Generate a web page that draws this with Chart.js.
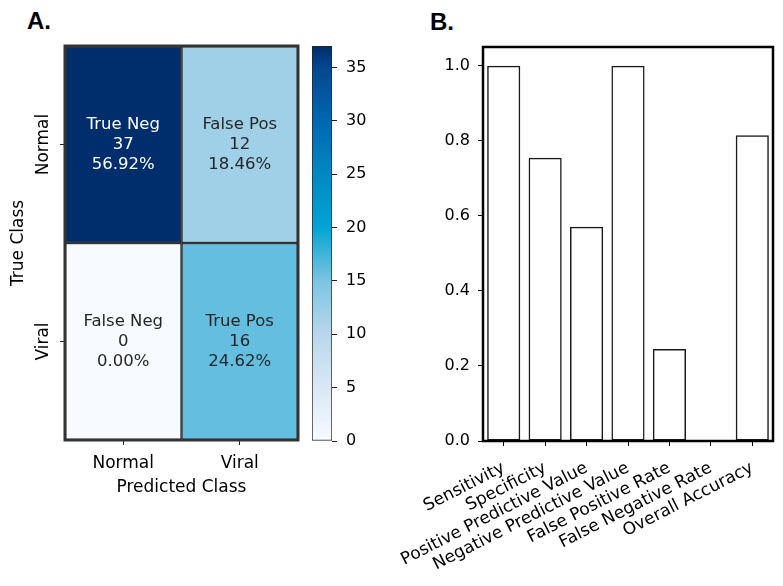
<!DOCTYPE html>
<html>
<head>
<meta charset="utf-8">
<script src="https://cdn.jsdelivr.net/npm/chart.js@4.4.0/dist/chart.umd.min.js"></script>
<style>
  body { margin: 0; background: #fff; }
  #wrap { position: relative; width: 783px; height: 586px; overflow: hidden; }
  canvas { position: absolute; top: 0; }
  .panel { position: absolute; font: bold 24px 'Liberation Sans', Arial, sans-serif; line-height: 24px; color: #000; }
</style>
</head>
<body>
<div id="wrap">
  <div class="panel" style="left:27px;top:9px">A.</div>
  <div class="panel" style="left:430px;top:10px">B.</div>
  <canvas id="heat" width="300" height="586" style="left:0"></canvas>
  <canvas id="cbar" width="80" height="586" style="left:300px"></canvas>
  <canvas id="bars" width="433" height="586" style="left:350px"></canvas>
</div>
<script>
// A. confusion matrix
var predLabels = ['Normal', 'Viral'];
var trueLabels = ['Normal', 'Viral'];
var rowNormal = [37, 12];
var rowViral = [0, 16];
var namesNormal = ['True Neg', 'False Pos'];
var namesViral = ['False Neg', 'True Pos'];

// colour bar (value stops -> colour)
var cbStops = [0, 5, 10, 15, 20, 25, 30, 35, 37];
var cbColors = ['#f7fbff', '#dae8f5', '#b8d7ec', '#7cc4e3', '#00a5d3', '#0088c2', '#0067b1', '#03478f', '#002d6b'];

// B. metrics
var metricLabels = ['Sensitivity', 'Specificity', 'Positive Predictive Value', 'Negative Predictive Value',
                    'False Positive Rate', 'False Negative Rate', 'Overall Accuracy'];
var metricValues = [1.0, 0.755, 0.571, 1.0, 0.245, 0.0, 0.815];

Chart.defaults.font.family = "'DejaVu Sans', sans-serif";
Chart.defaults.color = '#000';

var rows = [rowNormal, rowViral];
var rowNames = [namesNormal, namesViral];
var total = rowNormal.concat(rowViral).reduce(function (a, b) { return a + b; }, 0);

function hexRgb(h) {
    return [parseInt(h.substr(1, 2), 16), parseInt(h.substr(3, 2), 16), parseInt(h.substr(5, 2), 16)];
}
// pick colour of value on the colour bar
function colorFor(v) {
    for (var i = 1; i < cbStops.length; i++) {
        if (v <= cbStops[i]) {
            var t = (v - cbStops[i - 1]) / (cbStops[i] - cbStops[i - 1]);
            var a = hexRgb(cbColors[i - 1]), b = hexRgb(cbColors[i]);
            var c = a.map(function (x, k) { return Math.round(x + (b[k] - x) * t); });
            return 'rgb(' + c.join(',') + ')';
        }
    }
    return cbColors[cbColors.length - 1];
}

// box round the plot area
var frame = {
    id: 'frame',
    afterDraw: function (chart) {
        var o = chart.options.plugins.frame;
        if (!o) return;
        var a = chart.chartArea, ctx = chart.ctx;
        ctx.save();
        ctx.strokeStyle = o.color;
        ctx.lineWidth = o.width;
        ctx.strokeRect(a.left, a.top, a.right - a.left, a.bottom - a.top);
        ctx.restore();
    }
};

// text inside heatmap cells
var cellLabels = {
    id: 'cellLabels',
    afterDatasetsDraw: function (chart) {
        var ctx = chart.ctx;
        ctx.save();
        ctx.font = "16.5px 'DejaVu Sans'";
        ctx.textAlign = 'center';
        ctx.textBaseline = 'middle';
        chart.data.datasets.forEach(function (ds, di) {
            chart.getDatasetMeta(di).data.forEach(function (el, i) {
                var p = el.getProps(['x', 'y', 'base'], true);
                var cy = (p.y + p.base) / 2;
                var v = ds.counts[i];
                var lines = [ds.names[i], String(v), (v / total * 100).toFixed(2) + '%'];
                ctx.fillStyle = v > 25 ? '#ffffff' : '#262626';
                lines.forEach(function (t, k) { ctx.fillText(t, p.x, cy + (k - 1) * 20); });
            });
        });
        ctx.restore();
    }
};

var heatSets = rows.map(function (vals, r) {
    var lo = trueLabels.length - 1 - r;
    return {
        data: vals.map(function () { return [lo, lo + 1]; }),
        counts: vals,
        names: rowNames[r],
        backgroundColor: vals.map(colorFor),
        borderColor: '#333',
        borderWidth: 1.5,
        borderSkipped: false,
        grouped: false,
        barPercentage: 1,
        categoryPercentage: 1
    };
});

new Chart(document.getElementById('heat'), {
    type: 'bar',
    data: { labels: predLabels, datasets: heatSets },
    options: {
        responsive: false, animation: false,
        layout: { padding: { top: 46, right: 2, bottom: 88, left: 0 } },
        plugins: {
            legend: { display: false },
            tooltip: { enabled: false },
            frame: { color: '#333', width: 3 }
        },
        scales: {
            x: {
                grid: { offset: false, drawOnChartArea: false, tickLength: 5, color: '#222' },
                border: { display: false },
                ticks: { font: { size: 17 }, color: '#000', padding: 8, minRotation: 0, maxRotation: 0 },
                title: { display: true, text: 'Predicted Class', font: { size: 17 }, color: '#000', padding: 0 },
                afterFit: function (s) { s.height = 58; }
            },
            y: {
                min: 0, max: trueLabels.length,
                afterBuildTicks: function (s) {
                    s.ticks = trueLabels.map(function (_, i) { return { value: i + 0.5 }; });
                },
                grid: { drawOnChartArea: false, tickLength: 5, color: '#222' },
                border: { display: false },
                ticks: {
                    font: { size: 17 }, color: '#000', minRotation: 90, maxRotation: 90,
                    crossAlign: 'center', padding: -14,
                    callback: function (v, i) { return trueLabels[trueLabels.length - 1 - i]; }
                },
                title: { display: true, text: 'True Class', font: { size: 17 }, color: '#000', padding: { top: 8, bottom: 0 } },
                afterFit: function (s) { s.width = 65; }
            }
        }
    },
    plugins: [cellLabels, frame]
});

// colour bar
new Chart(document.getElementById('cbar'), {
    type: 'bar',
    data: {
        labels: [''],
        datasets: [{
            data: [[cbStops[0], cbStops[cbStops.length - 1]]],
            backgroundColor: function (c) {
                var chart = c.chart;
                if (!chart.chartArea) return cbColors[0];
                var y = chart.scales.y;
                var lo = cbStops[0], hi = cbStops[cbStops.length - 1];
                var g = chart.ctx.createLinearGradient(0, y.getPixelForValue(lo), 0, y.getPixelForValue(hi));
                cbStops.forEach(function (s, i) { g.addColorStop((s - lo) / (hi - lo), cbColors[i]); });
                return g;
            },
            borderColor: '#222',
            borderWidth: 1,
            borderSkipped: false,
            barPercentage: 1,
            categoryPercentage: 1
        }]
    },
    options: {
        responsive: false, animation: false,
        layout: { padding: { top: 46, right: 0, bottom: 145, left: 12 } },
        plugins: { legend: { display: false }, tooltip: { enabled: false } },
        scales: {
            x: { display: false },
            y: {
                position: 'right', min: cbStops[0], max: cbStops[cbStops.length - 1],
                ticks: { stepSize: 5, includeBounds: false, font: { size: 16 }, color: '#000', padding: 9 },
                grid: { drawOnChartArea: false, tickLength: 5, color: '#222' },
                border: { display: false },
                afterFit: function (s) { s.width = 48; }
            }
        }
    }
});

// B. bar chart
new Chart(document.getElementById('bars'), {
    type: 'bar',
    data: {
        labels: metricLabels,
        datasets: [{
            data: metricValues,
            backgroundColor: 'rgba(255,255,255,0)',
            borderColor: '#1a1a1a',
            borderWidth: 1.5,
            borderSkipped: false,
            barPercentage: 0.8,
            categoryPercentage: 1
        }]
    },
    options: {
        responsive: false, animation: false,
        layout: { padding: { top: 47, right: 10, bottom: 0, left: 0 } },
        plugins: {
            legend: { display: false },
            tooltip: { enabled: false },
            frame: { color: '#000', width: 2.5 }
        },
        scales: {
            x: {
                grid: { offset: false, drawOnChartArea: false, tickLength: 5, color: '#000' },
                border: { display: false },
                ticks: { font: { size: 17 }, color: '#000', minRotation: 27, maxRotation: 27, autoSkip: false, padding: 12 },
                afterFit: function (s) { s.height = 145; }
            },
            y: {
                min: 0, max: 1.05,
                grid: { drawOnChartArea: false, tickLength: 5, color: '#000' },
                border: { display: false },
                ticks: {
                    stepSize: 0.2, includeBounds: false, font: { size: 16 }, color: '#000', padding: 8,
                    callback: function (v) { return v.toFixed(1); }
                },
                afterFit: function (s) { s.width = 133; }
            }
        }
    },
    plugins: [frame]
});
</script>
</body>
</html>
